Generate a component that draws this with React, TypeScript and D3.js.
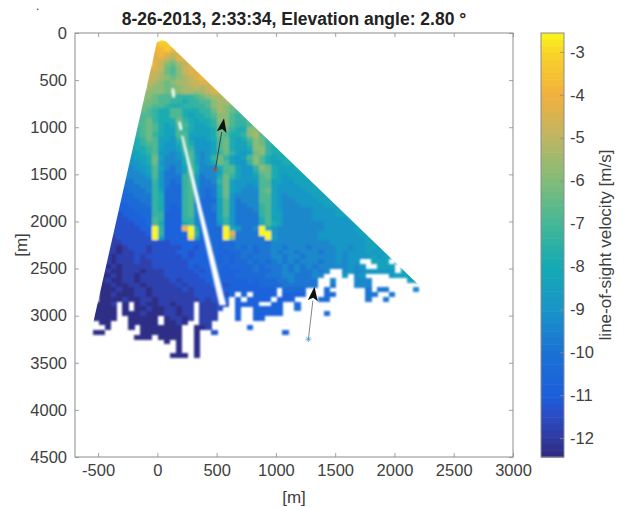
import React, { useEffect, useRef } from 'react';
import * as d3 from 'd3';

const titleText = '8-26-2013, 2:33:34, Elevation angle: 2.80 °';
const colorbarLabel = 'line-of-sight velocity [m/s]';
const xTicks = [-500, 0, 500, 1000, 1500, 2000, 2500, 3000];
const yTicks = [0, 500, 1000, 1500, 2000, 2500, 3000, 3500, 4000, 4500];
const barTicks = [-3, -4, -5, -6, -7, -8, -9, -10, -11, -12];

// colormap
const cmapValues = [-12.45, -12, -11.5, -11, -10, -9, -8, -7, -6, -5, -4, -3, -2.56];
const cmapColors = ['#2f2a7e', '#2f3aa0', '#2a4bc4', '#1c5fdc', '#1a72d4', '#1a94c8', '#14aab4', '#45b796', '#82bc78', '#bdb562', '#f2b03c', '#f8d628', '#f9f71c'];

// velocity grid, 50 m cells. Each letter is a level: a = -12.35 m/s, +0.5 per letter, "." = no data
const gridFirstY = 50;
const gridStartCol = [
  10, 10, 10, 10, 10, 10, 9, 9, 9, 9, 9, 8, 7, 7, 7, 7, 7, 6, 6, 6, 6, 6, 6,
  5, 5, 5, 5, 5, 4, 4, 4, 4, 4, 4, 3, 3, 3, 3, 3, 2, 2, 2, 2, 2, 2, 1, 1, 1, 1, 1, 1, 1, 1, 1, 1, 1,
  0, 0, 0, 0, 0, 0, 0, 0, 0, 0, 0, 0,
];
const gridRows = [
  'sttrr',
  'rsstrr',
  'rrsrrrr',
  'qrqpqrrr',
  'qqpoqqrrr',
  'qpnmopqqqq',
  'qqpmlnpqqrqq',
  'ppomlnpqqqqqq',
  'pponmnopqrqqqq',
  'ponmnooppqqqrqq',
  'onnmmnoopopqqqrr',
  'onnnmnnoonopqqqrrr',
  'nnnmlllkkklmnoopqq',
  'nnmmllkkjkkllnoopqq',
  'mmmllkjjkkkklnonmmm',
  'mmlkjjlljjjkkmonmlmm',
  'lllkjjlljijjklnnlklmm',
  'mllmkjjjmkjijjknnlkkmnm',
  'lllmljijlljiijkmnlkklnnm',
  'kklmljiilkjiiijmmkjjnnlll',
  'jklmkjiilliiiijmljjknolkk',
  'jjkmliihklihhijlmjijlnmkkk',
  'ijkllihhjljhhhilmjiiknmkjjj',
  'iijjklihhilkhhhilmjiijnnkjjjj',
  'hiijklhhghklhghikmkihimnkjjjjj',
  'hhiijmigghjlighkmkihilnljijjjj',
  'ghhijmhgggjlighjmlihhknljiijjj',
  'gghhiligfgiljgggjllihhknmjiiijjj',
  'gggghilhffgimjgggillihhjmmjiiiijjj',
  'fgggghlhfffklifggjmkihhilmjihiiijjj',
  'fffgggkhfefklhffgkmihhhhlliihhiiijjj',
  'efffggkhfeeklhfffjmihhghllihhhhiiijjj',
  'eefffgkieeeklgfefjmihggglmihhhhhiiijj',
  'deefffkjeeeklgfefjmhgggglli hghhhhiiiij'.replace(' ', ''),
  'ddeeeffkjeeeklgeeeilhfggglli hgghhhhiiiij'.replace(' ', ''),
  'dddeeefkjedeklfeefilhffggkli hggghhhhiiiij'.replace(' ', ''),
  'cdddeeekjeddklgeefilhfffgkli hggggghhhhiiiij'.replace(' ', ''),
  'ccdddeekkdddklgeeeilhffffkli iggggghhhhiiiii'.replace(' ', ''),
  'cccdddelkdddkkgeeeikhffffjli iggggghhhhhhiii'.replace(' ', ''),
  'cccccddeljdddjkgeeehkhffffjlj iggggggghhhhhiii'.replace(' ', ''),
  'ccccccddukdddrujeeeeujhffgujhgggggggghhhhhiii',
  'bccccccdukdddeukeeeeuqffffuuhggggggghhhhhhhiiii',
  'bbccccccuiddddtieeeeunfffffuiggggggghhhhhhhhiiii',
  'bbbccccccccddddddeeeeeffffffgggggggggghhhhhhiiiii',
  'bbabcccbcccccddcdeedeefefeffggfgggfgggghhghhiihiii',
  'bbbabbccbccccddcdddeedeeffeffgfggfgggfgghghhhihihii',
  'bbabbbcbccccccdcdddededefefffggfggfggggghghhhhihiiii',
  'bbabbbcbbccccccddddededeefefefgfgfgggfgghghh..iii.jj',
  'bababbbbbccccccdcdddedeeeefefffgfgfgfggggghgh..iii.iji',
  'abaabbbabbbcccccdcddddddeefeeffgfgffgfg..ghgghhhhh.ii',
  'aababbabbbbccccccddddddeeeeefffggfffgg...h.gh....hiii',
  'abaabbabbbbbcbccccdddddddedeeeffgffff..g...ggg......iii',
  'aabaabbabbbbbcbccccddcdddddeeeeffffff..f...ggg',
  'aaabaabbabbbbbcbccccdddddddddd.eeee...e......f.ff....g',
  'aabaaabbabbbbbbbccccccd.d.dddd.dddd...ee.....ff..f',
  'aaaabaabbabbbbbbbcbccd.d.dddd.ddd....ee......f..f',
  'aaab.a.abaabbabbb.bbbcc.dddd..dd..e',
  'aaaa.a.aabaabbabb.bbbc..d..ddddd..e',
  'aaaa.aaabaaabbabb.bbb...d..ddddd.......e',
  'aaaa..aaaaa.abbab.bbb...d..dd',
  '.aa...aaaaa.aaba..bb',
  '..a...a.aaaaaaa..aab......d',
  'aa......aaaaaaa..a..c...........d',
  '.......aaa.aaaa..a',
  '............a.a..a',
  '..............a..a',
  '..............a..a',
  '.............aaa.a',
];

// outline of the scanned wedge
const wedgeX = [-5, 30, 68, 2176, 2922, -618];
const wedgeY = [100, 78, 84, 2640, 3500, 3500];

// missing beam, tapered gaps in the wedge
const gapX0 = [130, 186, 209];
const gapY0 = [587, 941, 1090];
const gapX1 = [138, 200, 552];
const gapY1 = [683, 1030, 2890];
const gapW0 = [22, 22, 17];
const gapW1 = [24, 24, 58];

const arrowTailX = [489, 1274];
const arrowTailY = [1450, 3250];
const arrowTipX = [562, 1325];
const arrowTipY = [905, 2693];
const arrowShaftColor = ['#333333', '#777777'];
const arrowMarkColor = ['#a8503c', '#4a98c8'];

const width = 623;
const height = 507;
const gridLeft = -545;
const cellSize = 50;

export default function App() {
  const ref = useRef<SVGSVGElement>(null);

  useEffect(() => {
    const svg = d3.select(ref.current);
    svg.selectAll('*').remove();

    const font = '"Liberation Sans", Arial, sans-serif';
    const inkColor = '#404040';
    const boxColor = '#8c8c8c';
    const plot = { left: 75, right: 513, top: 33, bottom: 457 };

    const xScale = d3.scaleLinear().domain([-695, 3000]).range([plot.left, plot.right]);
    const yScale = d3.scaleLinear().domain([0, 4500]).range([plot.top, plot.bottom]);
    const color = d3.scaleLinear<string>().domain(cmapValues).range(cmapColors).interpolate(d3.interpolateRgb).clamp(true);
    const letterValue = (ch: string) => -12.35 + 0.5 * (ch.charCodeAt(0) - 97);

    const defs = svg.append('defs');
    defs.append('filter').attr('id', 'soft')
      .attr('x', '-5%').attr('y', '-5%').attr('width', '110%').attr('height', '110%')
      .append('feGaussianBlur').attr('stdDeviation', 0.8);
    defs.append('clipPath').attr('id', 'wedge')
      .append('polygon')
      .attr('points', wedgeX.map((x, i) => `${xScale(x)},${yScale(wedgeY[i])}`).join(' '));

    svg.append('rect').attr('width', width).attr('height', height).attr('fill', '#ffffff');

    // speck at the top left of the scan
    svg.append('text').attr('x', 36).attr('y', 10).attr('font-family', font).attr('font-size', 12).attr('fill', '#333').text('.');

    // Heat map
    const heat = svg.append('g').attr('clip-path', 'url(#wedge)').append('g').attr('filter', 'url(#soft)');
    gridRows.forEach((row, r) => {
      const y0 = gridFirstY + r * cellSize;
      row.split('').forEach((ch, i) => {
        if (ch === '.') return;
        const x0 = gridLeft + (gridStartCol[r] + i) * cellSize;
        heat.append('rect')
          .attr('x', xScale(x0))
          .attr('y', yScale(y0))
          .attr('width', xScale(x0 + cellSize) - xScale(x0) + 0.3)
          .attr('height', yScale(y0 + cellSize) - yScale(y0) + 0.3)
          .attr('shape-rendering', 'crispEdges')
          .attr('fill', color(letterValue(ch)));
      });
    });

    // Missing beam
    const gaps = svg.append('g').attr('filter', 'url(#soft)');
    gapX0.forEach((x, i) => {
      const pts = [
        [x - gapW0[i] / 2, gapY0[i]],
        [x + gapW0[i] / 2, gapY0[i]],
        [gapX1[i] + gapW1[i] / 2, gapY1[i]],
        [gapX1[i] - gapW1[i] / 2, gapY1[i]],
      ];
      gaps.append('polygon')
        .attr('points', pts.map((p) => `${xScale(p[0])},${yScale(p[1])}`).join(' '))
        .attr('fill', '#ffffff');
    });

    // Axes box
    svg.append('rect')
      .attr('x', plot.left).attr('y', plot.top)
      .attr('width', plot.right - plot.left).attr('height', plot.bottom - plot.top)
      .attr('fill', 'none').attr('stroke', boxColor).attr('stroke-width', 1);

    const styleAxis = (g: any) => {
      g.select('.domain').remove();
      g.selectAll('.tick line').attr('stroke', boxColor).attr('stroke-width', 0.8);
      g.selectAll('.tick text').attr('font-family', font).attr('font-size', 16.5).attr('fill', inkColor);
    };

    svg.append('g').attr('transform', `translate(0,${plot.bottom})`)
      .call(d3.axisBottom(xScale).tickValues(xTicks).tickSize(-4).tickPadding(7).tickFormat((d) => String(d)))
      .call(styleAxis);
    svg.append('g').attr('transform', `translate(0,${plot.top})`)
      .call(d3.axisTop(xScale).tickValues(xTicks).tickSize(-4).tickFormat(() => ''))
      .call(styleAxis);
    svg.append('g').attr('transform', `translate(${plot.left},0)`)
      .call(d3.axisLeft(yScale).tickValues(yTicks).tickSize(-4).tickPadding(8).tickFormat((d) => String(d)))
      .call(styleAxis);
    svg.append('g').attr('transform', `translate(${plot.right},0)`)
      .call(d3.axisRight(yScale).tickValues(yTicks).tickSize(-4).tickFormat(() => ''))
      .call(styleAxis);

    // Arrows
    arrowTailX.forEach((tx, i) => {
      const x0 = xScale(tx);
      const y0 = yScale(arrowTailY[i]);
      const x1 = xScale(arrowTipX[i]);
      const y1 = yScale(arrowTipY[i]);
      const len = Math.hypot(x1 - x0, y1 - y0);
      const ux = (x1 - x0) / len;
      const uy = (y1 - y0) / len;
      const headLen = 14;
      const headHalf = 5;
      const bx = x1 - ux * headLen;
      const by = y1 - uy * headLen;
      svg.append('line')
        .attr('x1', x0).attr('y1', y0).attr('x2', bx).attr('y2', by)
        .attr('stroke', arrowShaftColor[i]).attr('stroke-width', 0.9);
      svg.append('path')
        .attr('d', d3.line()([
          [x1, y1],
          [bx - uy * headHalf, by + ux * headHalf],
          [x1 - ux * 11, y1 - uy * 11],
          [bx + uy * headHalf, by - ux * headHalf],
        ]) + 'Z')
        .attr('fill', '#111111');
      // asterisk marker at the tail
      [d3.symbolTimes, d3.symbolPlus].forEach((type) => {
        svg.append('path')
          .attr('transform', `translate(${x0},${y0})`)
          .attr('d', d3.symbol().type(type).size(14)() as string)
          .attr('fill', 'none')
          .attr('stroke', arrowMarkColor[i])
          .attr('stroke-width', 0.7);
      });
    });

    // Colorbar
    const bar = { left: 541, right: 564, top: 33, bottom: 457 };
    const barScale = d3.scaleLinear().domain([-2.56, -12.44]).range([bar.top, bar.bottom]);
    const levels = d3.range(64);
    const levelH = (bar.bottom - bar.top) / levels.length;
    svg.append('g').selectAll('rect').data(levels).enter().append('rect')
      .attr('x', bar.left)
      .attr('y', (d) => bar.top + d * levelH)
      .attr('width', bar.right - bar.left)
      .attr('height', levelH + 0.5)
      .attr('fill', (d) => color(barScale.invert(bar.top + (d + 0.5) * levelH)));
    svg.append('rect')
      .attr('x', bar.left).attr('y', bar.top)
      .attr('width', bar.right - bar.left).attr('height', bar.bottom - bar.top)
      .attr('fill', 'none').attr('stroke', boxColor).attr('stroke-width', 1);
    svg.append('g').attr('transform', `translate(${bar.right},0)`)
      .call(d3.axisRight(barScale).tickValues(barTicks).tickSize(-4).tickPadding(6).tickFormat((d) => String(d)))
      .call(styleAxis);

    // Labels
    svg.append('text')
      .attr('x', 294).attr('y', 25)
      .attr('text-anchor', 'middle')
      .attr('font-family', font).attr('font-size', 17.5).attr('font-weight', 'bold')
      .attr('fill', '#222222')
      .text(titleText);
    svg.append('text')
      .attr('x', 294).attr('y', 503)
      .attr('text-anchor', 'middle')
      .attr('font-family', font).attr('font-size', 17).attr('fill', inkColor)
      .text('[m]');
    svg.append('text')
      .attr('transform', 'translate(27,245) rotate(-90)')
      .attr('text-anchor', 'middle')
      .attr('font-family', font).attr('font-size', 17).attr('fill', inkColor)
      .text('[m]');
    svg.append('text')
      .attr('transform', 'translate(611,245) rotate(-90)')
      .attr('text-anchor', 'middle')
      .attr('font-family', font).attr('font-size', 17).attr('fill', inkColor)
      .text(colorbarLabel);
  }, []);

  return (
    <svg
      ref={ref}
      width={width}
      height={height}
      style={{ position: 'absolute', left: 0, top: 0, display: 'block' }}
    />
  );
}
